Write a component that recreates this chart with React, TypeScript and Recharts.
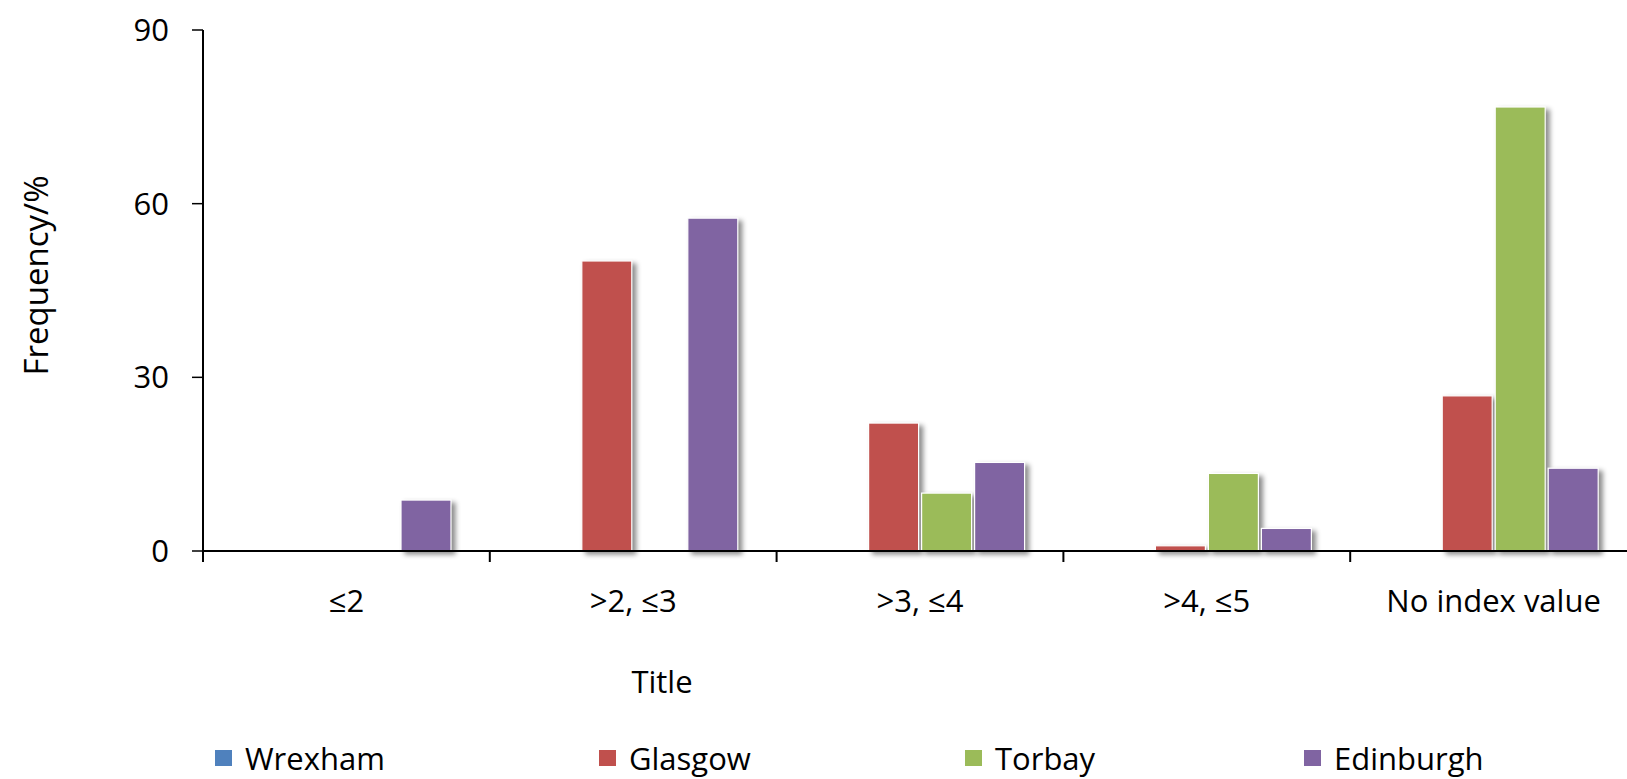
import React from 'react';
import { BarChart, Bar, XAxis, YAxis, Legend } from 'recharts';

// Frequency (%) of each index band, per city
const categories = ['≤2', '>2, ≤3', '>3, ≤4', '>4, ≤5', 'No index value'];
const wrexham = [0, 0, 0, 0, 0];
const glasgow = [0, 50.1, 22.1, 0.9, 26.8];
const torbay = [0, 0, 10, 13.4, 76.7];
const edinburgh = [8.8, 57.5, 15.3, 3.9, 14.3];
const yTicks = [0, 30, 60, 90];

const seriesNames = ['Wrexham', 'Glasgow', 'Torbay', 'Edinburgh'];
const seriesColors = ['#4F81BD', '#C0504D', '#9BBB59', '#8064A2'];

const data = categories.map((c, i) => ({
  category: c,
  Wrexham: wrexham[i],
  Glasgow: glasgow[i],
  Torbay: torbay[i],
  Edinburgh: edinburgh[i],
}));

const FONT = '"Open Sans", sans-serif';
const FONT_SIZE = 31;

// Flat bar with a thin white outline and a soft drop shadow
const ShadowBar = (props: any) => {
  const { x, y, width, height, fill } = props;
  if (!height || height <= 0) return <g />;
  return (
    <rect
      x={x}
      y={y}
      width={width}
      height={height}
      fill={fill}
      stroke="#ffffff"
      strokeWidth={1.2}
      style={{ filter: 'drop-shadow(4px 3px 2.5px rgba(0,0,0,0.45))' }}
    />
  );
};

// Category label with tick marks on the band boundaries instead of the band centre
const BandTick = (props: any) => {
  const { x, y, payload, width, visibleTicksCount } = props;
  const half =
    payload && typeof payload.offset === 'number' && payload.offset > 0
      ? payload.offset
      : width / (visibleTicksCount || categories.length) / 2;
  const isLast = payload.index === categories.length - 1;
  return (
    <g>
      <line x1={x - half} y1={y} x2={x - half} y2={y + 11} stroke="#000" strokeWidth={2} />
      {isLast && <line x1={x + half} y1={y} x2={x + half} y2={y + 11} stroke="#000" strokeWidth={2} />}
      <text
        x={x}
        y={y + 39}
        dy="0.71em"
        textAnchor="middle"
        fill="#000"
        style={{ fontSize: FONT_SIZE, fontFamily: FONT }}
      >
        {payload.value}
      </text>
    </g>
  );
};

const legendLeft = [215, 599, 965, 1304];
const LEGEND_H = 42;

const CityLegend = () => (
  <div style={{ position: 'relative', width: 1627, height: LEGEND_H, fontFamily: FONT }}>
    {seriesNames.map((name, i) => (
      <div
        key={name}
        style={{
          position: 'absolute',
          left: legendLeft[i],
          top: 0,
          height: LEGEND_H,
          display: 'flex',
          alignItems: 'center',
          whiteSpace: 'nowrap',
        }}
      >
        <span
          style={{
            display: 'inline-block',
            width: 17,
            height: 16,
            background: seriesColors[i],
            marginRight: 13,
          }}
        />
        <span style={{ fontSize: FONT_SIZE, color: '#000', lineHeight: `${LEGEND_H}px` }}>{name}</span>
      </div>
    ))}
  </div>
);

export default function App() {
  return (
    <div
      style={{
        position: 'absolute',
        left: 0,
        top: 0,
        width: 1627,
        height: 779,
        overflow: 'hidden',
        background: '#fff',
        fontFamily: FONT,
      }}
    >
      <BarChart
        width={1637}
        height={779}
        data={data}
        margin={{ top: 30, right: 0, bottom: 0, left: 0 }}
        barSize={50}
        barGap={3}
      >
        <XAxis
          dataKey="category"
          height={228}
          axisLine={{ stroke: '#000', strokeWidth: 2 }}
          tickLine={false}
          tickSize={0}
          tickMargin={0}
          interval={0}
          tick={BandTick}
          label={{
            value: 'Title',
            position: 'insideTop',
            offset: 120,
            dx: -258,
            style: { fontSize: FONT_SIZE, fill: '#000', fontFamily: FONT },
          }}
        />
        <YAxis
          width={203}
          domain={[0, 90]}
          ticks={yTicks}
          interval={0}
          axisLine={{ stroke: '#000', strokeWidth: 2 }}
          tickLine={{ stroke: '#000', strokeWidth: 1.5 }}
          tickSize={11}
          tickMargin={23}
          tick={{ fontSize: FONT_SIZE, fill: '#000', fontFamily: FONT }}
          label={{
            value: 'Frequency/%',
            angle: -90,
            position: 'insideLeft',
            offset: 36,
            dy: -15,
            style: { fontSize: 33, fill: '#000', fontFamily: FONT, textAnchor: 'middle' },
          }}
        />
        <Legend
          layout="horizontal"
          verticalAlign="middle"
          align="center"
          wrapperStyle={{ top: 737, left: 0, width: 1627, height: LEGEND_H }}
          content={CityLegend}
        />
        {seriesNames.map((name, i) => (
          <Bar
            key={name}
            dataKey={name}
            fill={seriesColors[i]}
            shape={ShadowBar}
            isAnimationActive={false}
          />
        ))}
      </BarChart>
    </div>
  );
}
